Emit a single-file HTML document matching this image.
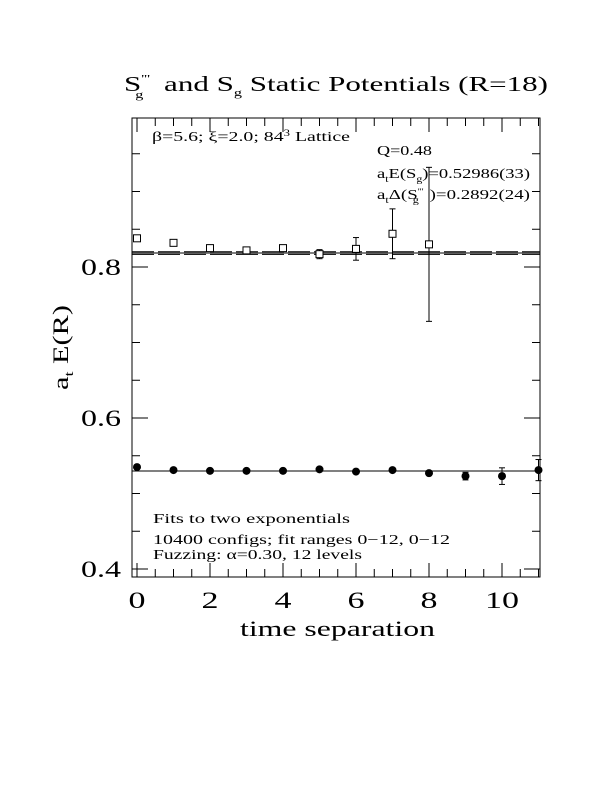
<!DOCTYPE html>
<html><head><meta charset="utf-8"><style>
body{margin:0;background:#fff;width:612px;height:792px;overflow:hidden}
svg{display:block;font-family:"Liberation Serif",serif}
</style></head><body>
<svg id="chart" width="612" height="792" viewBox="0 0 612 792">
<text x="124" y="91" font-size="21" textLength="424" lengthAdjust="spacingAndGlyphs">S<tspan font-size="11" dy="-9">'''</tspan><tspan font-size="11" dx="-10" dy="16">g</tspan><tspan dy="-7" dx="14">and S</tspan><tspan font-size="11" dy="5">g</tspan><tspan dy="-5"> Static Potentials (R=18)</tspan></text>
<rect x="132" y="118" width="408" height="459" fill="none" stroke="#000" stroke-width="1"/>
<g id="ticks"></g>
<g id="lines"></g>
<g id="marks"></g>
<g id="xlabels" font-size="23" text-anchor="middle"></g>
<g id="ylabels" font-size="23" text-anchor="end"></g>
<text x="240" y="636" font-size="22" textLength="195" lengthAdjust="spacingAndGlyphs">time separation</text>
<text transform="translate(68,390) rotate(-90)" font-size="22" textLength="85" lengthAdjust="spacingAndGlyphs">a<tspan font-size="13" dy="5">t</tspan><tspan dy="-5"> E(R)</tspan></text>
<text x="152" y="141" font-size="14" textLength="198" lengthAdjust="spacingAndGlyphs">β=5.6; ξ=2.0; 84<tspan font-size="9" dy="-5">3</tspan><tspan dy="5"> Lattice</tspan></text>
<text x="377" y="155" font-size="14" textLength="55" lengthAdjust="spacingAndGlyphs">Q=0.48</text>
<text x="377" y="178" font-size="14" textLength="153" lengthAdjust="spacingAndGlyphs">a<tspan font-size="9" dy="4">t</tspan><tspan dy="-4">E(S</tspan><tspan font-size="9" dy="4">g</tspan><tspan dy="-4">)=0.52986(33)</tspan></text>
<text x="377" y="199" font-size="14" textLength="153" lengthAdjust="spacingAndGlyphs">a<tspan font-size="9" dy="4">t</tspan><tspan dy="-4">Δ(S</tspan><tspan font-size="8" dy="-5">'''</tspan><tspan font-size="9" dx="-8" dy="9">g</tspan><tspan dy="-4" dx="8">)=0.2892(24)</tspan></text>
<text x="153" y="523" font-size="14" textLength="197" lengthAdjust="spacingAndGlyphs">Fits to two exponentials</text>
<text x="153" y="544" font-size="14" textLength="297" lengthAdjust="spacingAndGlyphs">10400 configs; fit ranges 0−12, 0−12</text>
<text x="153" y="559" font-size="14" textLength="209" lengthAdjust="spacingAndGlyphs">Fuzzing: α=0.30, 12 levels</text>
</svg>
<script>
const gT=[0,1,2,3,4,5,6,7,8,9,10,11];
const gValues=[0.535,0.531,0.530,0.530,0.530,0.532,0.529,0.531,0.527,0.523,0.523,0.531];
const gErrors=[0.002,0.002,0.002,0.002,0.002,0.002,0.002,0.002,0.003,0.005,0.011,0.014];
const exT=[0,1,2,3,4,5,6,7,8];
const exValues=[0.838,0.832,0.825,0.822,0.825,0.817,0.824,0.844,0.830];
const exErrors=[0.002,0.002,0.003,0.003,0.004,0.006,0.015,0.033,0.102];
const gFit=0.52986, exFit=0.8185, exFitErr=0.0035;
const xTicks=[0,2,4,6,8,10];
const yTicks=[0.4,0.6,0.8];
const NS="http://www.w3.org/2000/svg";
const X=t=>137+36.5*t, Y=v=>267-(v-0.8)*755;
const L=132,R=540,T=118,B=577;
function el(tag,attrs,parent){const e=document.createElementNS(NS,tag);for(const k in attrs)e.setAttribute(k,attrs[k]);parent.appendChild(e);return e;}
const ticks=document.getElementById('ticks');
for(let t=0;t<=11.01;t+=0.5){const x=X(t),len=(Math.abs(t%2)<0.01)?14:8;
 const a=el('line',{x1:x,x2:x,y1:B,y2:B-len,stroke:'#000'},ticks);
 
 
 const b=el('line',{x1:x,x2:x,y1:T,y2:T+len,stroke:'#000'},ticks);
 
 }
for(let v=0.4;v<=1.0;v+=0.05){const y=Y(v);if(y<T||y>B)continue;const len=(Math.abs((v*10)%2)<0.01||Math.abs((v*10)%2-2)<0.01)?16:8;
 const a=el('line',{x1:L,x2:L+len,y1:y,y2:y,stroke:'#000'},ticks);
 
 
 const b=el('line',{x1:R,x2:R-len,y1:y,y2:y,stroke:'#000'},ticks);
 
 }
const xl=document.getElementById('xlabels');
xTicks.forEach(t=>{const s=String(t);const e=el('text',{x:X(t),y:608,textLength:17*s.length,lengthAdjust:'spacingAndGlyphs'},xl);e.textContent=s;
 
 });
const yl=document.getElementById('ylabels');
yTicks.forEach(v=>{const e=el('text',{x:121,y:Y(v)+8,textLength:40,lengthAdjust:'spacingAndGlyphs'},yl);e.textContent=v.toFixed(1);
 
 });
const lines=document.getElementById('lines');
let f=el('line',{x1:L,x2:R,y1:Y(gFit),y2:Y(gFit),stroke:'#000'},lines);


f=el('line',{x1:L,x2:R,y1:Y(exFit),y2:Y(exFit),stroke:'#000'},lines);


[exFit+exFitErr/2,exFit-exFitErr/2].forEach(v=>{const d=el('line',{x1:L,x2:R,y1:Y(v),y2:Y(v),stroke:'#000','stroke-dasharray':'22,4'},lines);
 
 });
const marks=document.getElementById('marks');
function errbar(x,v,e,nm){const g=el('g',{},marks);
 
 
 const y1=Y(v+e),y2=Y(v-e);
 el('line',{x1:x,x2:x,y1:y1,y2:y2,stroke:'#000'},g);
 if(y2-y1>6){el('line',{x1:x-3,x2:x+3,y1:y1,y2:y1,stroke:'#000'},g);el('line',{x1:x-3,x2:x+3,y1:y2,y2:y2,stroke:'#000'},g);}
 return g;}
gT.forEach((t,i)=>{errbar(X(t),gValues[i],gErrors[i],'ground-errorbar');
 const c=el('circle',{cx:X(t),cy:Y(gValues[i]),r:4,fill:'#000'},marks);
 
 });
exT.forEach((t,i)=>{errbar(X(t),exValues[i],exErrors[i],'excited-errorbar');
 const r=el('rect',{x:X(t)-3.5,y:Y(exValues[i])-3.5,width:7,height:7,fill:'#fff',stroke:'#000'},marks);
 
 });
</script>
</body></html>
